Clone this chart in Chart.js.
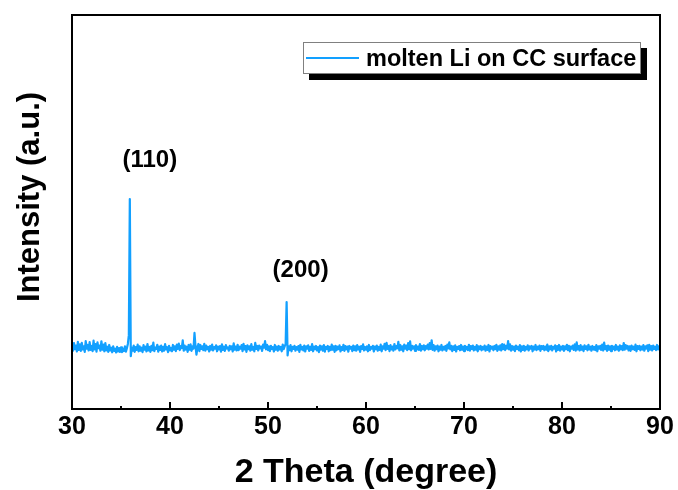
<!DOCTYPE html>
<html>
<head>
<meta charset="utf-8">
<script src="https://cdn.jsdelivr.net/npm/chart.js@4/dist/chart.umd.min.js"></script>
<style>
  html, body { margin: 0; padding: 0; background: #ffffff; }
  #wrap { width: 678px; height: 490px; position: relative; }
</style>
</head>
<body>
<div id="wrap"><canvas id="xrd" width="678" height="490"></canvas></div>
<script>
// XRD pattern of molten Li on a carbon-cloth surface
const seriesLabel = 'molten Li on CC surface';
const xAxisTitle = '2 Theta (degree)';
const yAxisTitle = 'Intensity (a.u.)';

// scan grid: 30.0° .. 90.0°, 0.1° per step
const startAngle = 30;
const angleStep = 0.1;

// measured intensity (counts), one row per degree
const intensity = [
  318, 296, 335, 304, 322, 292, 341, 300, 328, 295,   // 30
  336, 302, 318, 290, 345, 306, 325, 297, 339, 300,   // 31
  320, 294, 347, 303, 330, 291, 338, 309, 322, 296,   // 32
  344, 301, 327, 293, 335, 298, 316, 290, 325, 297,   // 33
  311, 288, 318, 295, 306, 287, 315, 292, 309, 290,   // 34
  313, 289, 305, 294, 318, 291, 309, 330, 375, 1066,  // 35
  268, 312, 296, 322, 290, 314, 300, 327, 293, 318,   // 36
  296, 311, 289, 324, 301, 316, 292, 330, 297, 315,   // 37
  290, 320, 299, 337, 294, 312, 305, 326, 291, 317,   // 38
  300, 322, 292, 315, 296, 329, 303, 314, 289, 321,   // 39
  298, 311, 293, 325, 301, 318, 294, 327, 305, 332,   // 40
  299, 319, 309, 348, 296, 322, 302, 316, 290, 325,   // 41
  301, 328, 295, 318, 306, 386, 320, 276, 312, 330,   // 42
  294, 325, 305, 318, 299, 331, 296, 322, 304, 315,   // 43
  292, 320, 301, 327, 297, 314, 306, 323, 293, 317,   // 44
  302, 319, 291, 328, 300, 316, 295, 324, 307, 313,   // 45
  296, 321, 303, 318, 292, 333, 301, 317, 297, 326,   // 46
  299, 316, 306, 324, 294, 331, 302, 319, 290, 323,   // 47
  304, 318, 296, 329, 301, 315, 293, 336, 305, 320,   // 48
  297, 322, 308, 317, 295, 327, 311, 345, 303, 326,   // 49
  299, 318, 294, 321, 305, 314, 292, 325, 301, 317,   // 50
  296, 320, 302, 315, 293, 327, 304, 318, 330, 543,   // 51
  272, 318, 299, 324, 293, 316, 305, 321, 296, 314,   // 52
  301, 319, 290, 326, 303, 315, 297, 322, 292, 318,   // 53
  306, 323, 295, 316, 300, 329, 293, 317, 304, 320,   // 54
  297, 314, 289, 322, 302, 318, 296, 324, 291, 316,   // 55
  305, 320, 293, 315, 299, 327, 301, 318, 290, 321,   // 56
  298, 316, 304, 323, 292, 314, 300, 326, 295, 319,   // 57
  303, 317, 291, 320, 306, 315, 294, 322, 299, 318,   // 58
  296, 324, 302, 316, 290, 319, 305, 328, 297, 315,   // 59
  301, 318, 293, 325, 299, 314, 307, 321, 292, 317,   // 60
  304, 322, 296, 315, 300, 327, 293, 318, 306, 331,   // 61
  299, 336, 305, 320, 294, 324, 302, 317, 296, 330,   // 62
  303, 319, 308, 341, 297, 325, 301, 318, 293, 327,   // 63
  306, 322, 299, 334, 304, 343, 298, 321, 307, 318,   // 64
  295, 324, 303, 317, 300, 329, 296, 320, 304, 323,   // 65
  298, 319, 306, 327, 302, 334, 305, 349, 300, 324,   // 66
  296, 318, 304, 322, 293, 317, 301, 325, 297, 316,   // 67
  302, 320, 295, 327, 308, 338, 303, 321, 294, 318,   // 68
  300, 323, 292, 316, 305, 319, 298, 325, 301, 317,   // 69
  294, 321, 303, 315, 299, 326, 296, 319, 305, 322,   // 70
  297, 316, 301, 324, 293, 318, 304, 320, 298, 315,   // 71
  303, 322, 296, 317, 300, 325, 292, 319, 306, 316,   // 72
  298, 320, 304, 326, 295, 318, 301, 323, 297, 330,   // 73
  304, 327, 299, 321, 307, 345, 303, 328, 296, 319,   // 74
  301, 317, 294, 322, 305, 316, 298, 324, 292, 318,   // 75
  300, 321, 296, 315, 303, 323, 297, 318, 306, 320,   // 76
  293, 317, 302, 325, 299, 316, 304, 322, 295, 319,   // 77
  305, 320, 298, 317, 301, 327, 294, 318, 303, 321,   // 78
  297, 316, 306, 323, 292, 319, 300, 325, 296, 317,   // 79
  302, 320, 295, 318, 304, 326, 299, 321, 293, 317,   // 80
  306, 322, 300, 328, 296, 338, 302, 319, 297, 324,   // 81
  301, 317, 294, 323, 305, 318, 298, 326, 303, 316,   // 82
  296, 320, 302, 315, 299, 324, 293, 318, 306, 321,   // 83
  300, 327, 297, 337, 304, 319, 295, 322, 301, 318,   // 84
  294, 321, 305, 317, 298, 325, 302, 316, 296, 323,   // 85
  303, 319, 299, 335, 301, 324, 306, 320, 297, 318,   // 86
  295, 322, 304, 316, 300, 327, 293, 319, 305, 321,   // 87
  298, 317, 302, 324, 296, 318, 307, 323, 294, 326,   // 88
  301, 319, 297, 322, 305, 316, 299, 325, 303, 318,   // 89
  300                                                 // 90
];

// labelled x ticks and the minor ticks between them
const xTickValues = [30, 40, 50, 60, 70, 80, 90];
const xMinorTickValues = [35, 45, 55, 65, 75, 85];

// indexed reflections of Li (bcc)
const peakAngles = [35.9, 51.9];
const peakNames = ['(110)', '(200)'];

const FONT = "'Liberation Sans', Arial, Helvetica, sans-serif";
const LINE_COLOR = '#12A0FF';

const points = intensity.map((v, i) => ({
  x: Math.round((startAngle + i * angleStep) * 10) / 10,
  y: v
}));

function intensityAt(angle) {
  const idx = Math.round((angle - startAngle) / angleStep);
  return intensity[idx];
}

const decorations = {
  id: 'decorations',
  afterDraw(chart) {
    const { ctx, chartArea: a, scales: { x, y } } = chart;
    ctx.save();

    // frame around the plotting area
    ctx.strokeStyle = '#000';
    ctx.lineWidth = 2;
    ctx.strokeRect(a.left, a.top, a.right - a.left, a.bottom - a.top);

    // inward tick marks on the bottom axis
    ctx.lineWidth = 2;
    ctx.beginPath();
    xTickValues.forEach(v => {
      const px = Math.round(x.getPixelForValue(v));
      ctx.moveTo(px, a.bottom);
      ctx.lineTo(px, a.bottom - 7);
    });
    xMinorTickValues.forEach(v => {
      const px = Math.round(x.getPixelForValue(v));
      ctx.moveTo(px, a.bottom);
      ctx.lineTo(px, a.bottom - 3);
    });
    ctx.stroke();

    // vertical axis title
    ctx.fillStyle = '#000';
    ctx.font = `bold 31px ${FONT}`;
    ctx.textAlign = 'center';
    ctx.textBaseline = 'middle';
    ctx.translate(30, 197);
    ctx.rotate(-Math.PI / 2);
    ctx.fillText(yAxisTitle, 0, 0);
    ctx.setTransform(1, 0, 0, 1, 0, 0);

    // reflection labels above their peaks
    const offsets = [[20, -39], [14, -32]];
    ctx.font = `bold 24px ${FONT}`;
    ctx.textAlign = 'center';
    ctx.textBaseline = 'middle';
    peakAngles.forEach((ang, i) => {
      const px = x.getPixelForValue(ang);
      const py = y.getPixelForValue(intensityAt(ang));
      ctx.fillText(peakNames[i], px + offsets[i][0], py + offsets[i][1]);
    });

    // legend box with drop shadow
    const bx = 303, by = 42, bw = 338, bh = 32, sh = 6;
    ctx.fillStyle = '#000';
    ctx.fillRect(bx + sh, by + sh, bw, bh);
    ctx.fillStyle = '#fff';
    ctx.fillRect(bx, by, bw, bh);
    ctx.strokeStyle = '#808080';
    ctx.lineWidth = 1;
    ctx.strokeRect(bx + 0.5, by + 0.5, bw - 1, bh - 1);
    const ds = chart.data.datasets[0];
    ctx.strokeStyle = ds.borderColor;
    ctx.lineWidth = 2;
    ctx.beginPath();
    ctx.moveTo(306, 58);
    ctx.lineTo(359, 58);
    ctx.stroke();
    ctx.fillStyle = '#000';
    ctx.font = `bold 23.5px ${FONT}`;
    ctx.textAlign = 'left';
    ctx.textBaseline = 'alphabetic';
    ctx.fillText(ds.label, 366, 66);

    ctx.restore();
  }
};

new Chart(document.getElementById('xrd'), {
  type: 'line',
  data: {
    datasets: [{
      label: seriesLabel,
      data: points,
      borderColor: LINE_COLOR,
      backgroundColor: LINE_COLOR,
      borderWidth: 2.2,
      borderJoinStyle: 'round',
      borderCapStyle: 'round',
      pointRadius: 0,
      tension: 0,
      fill: false
    }]
  },
  options: {
    responsive: false,
    animation: false,
    devicePixelRatio: 1,
    layout: { padding: { top: 15, right: 18, bottom: 0, left: 0 } },
    plugins: {
      legend: { display: false },
      tooltip: { enabled: false }
    },
    scales: {
      x: {
        type: 'linear',
        min: 30,
        max: 90,
        grid: { display: false, drawTicks: false },
        border: { display: false },
        afterBuildTicks: s => { s.ticks = xTickValues.map(v => ({ value: v })); },
        ticks: {
          color: '#000',
          padding: 3,
          maxRotation: 0,
          font: { family: FONT, size: 25, weight: 'bold' }
        },
        title: {
          display: true,
          text: xAxisTitle,
          color: '#000',
          padding: { top: 0, bottom: -3 },
          font: { family: FONT, size: 34, weight: 'bold' }
        },
        afterFit: s => { s.height = 81; s.paddingLeft = 0; s.paddingRight = 0; }
      },
      y: {
        type: 'linear',
        min: 0,
        max: 2000,
        grid: { display: false, drawTicks: false },
        border: { display: false },
        ticks: { display: false },
        afterFit: s => { s.width = 72; s.paddingTop = 0; s.paddingBottom = 0; }
      }
    }
  },
  plugins: [decorations]
});
</script>
</body>
</html>
